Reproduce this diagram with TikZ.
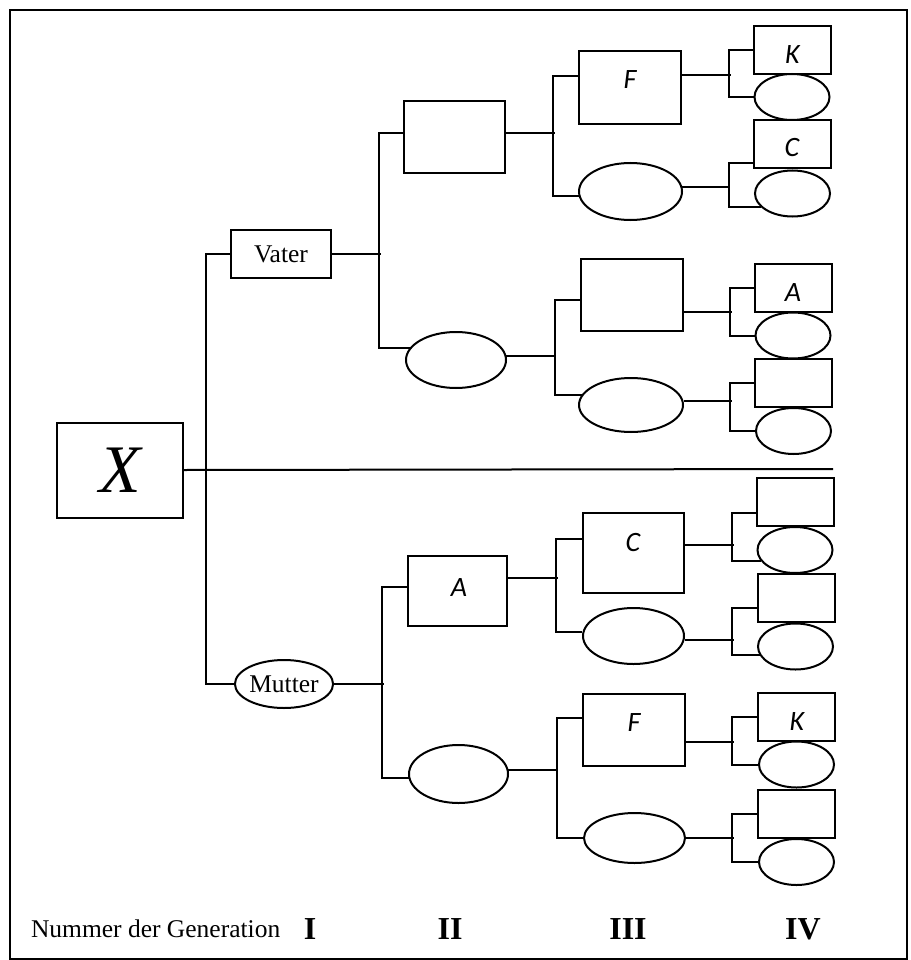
\documentclass[tikz,border=0pt]{standalone}
\usepackage{fontspec}
\setmainfont{Liberation Serif}
\newfontfamily\calibrifont{Carlito}
\usetikzlibrary{shapes.geometric}
\begin{document}
\begin{tikzpicture}[x=1pt,y=-1pt,line width=2pt,
  rbox/.style={draw,rectangle,inner sep=0pt},
  ell/.style={draw,ellipse,inner sep=0pt},
  rb4/.style={rbox,minimum width=77pt,minimum height=48pt},
  el4/.style={ell,minimum width=75pt,minimum height=46pt},
  lab/.style={font=\calibrifont\itshape\fontsize{28}{28}\selectfont,inner sep=0pt},
  txt/.style={font=\fontsize{25.5}{25.5}\selectfont},
  roman/.style={font=\bfseries\fontsize{32}{32}\selectfont,anchor=base,inner sep=0pt}]
\useasboundingbox (0,0) rectangle (910,960);
\draw[line width=1.2pt] (10,10) rectangle (907,959);

% Generation I
\node[rbox,minimum width=126pt,minimum height=95pt,font=\itshape\fontsize{68}{68}\selectfont] (X) at (120,470) {X};
\coordinate (axisend) at (833,469);
\draw (X.east) -- (axisend);

% Parents
\node[rbox,minimum width=100pt,minimum height=48pt,txt] (vater) at (281,254) {Vater};
\node[ell,minimum width=98pt,minimum height=48pt,txt] (mutter) at (284,684) {Mutter};
\draw (vater.west) -- ++(-24,0) |- (mutter.west);

% Generation II (grandparents)
\node[rbox,minimum width=101pt,minimum height=72pt] (B2a) at (454.5,137) {};
\node[ell,minimum width=100pt,minimum height=56pt] (E2a) at (456,360) {};
\node[rbox,minimum width=99pt,minimum height=70pt] (B2b) at (457.5,591) {};
\node[ell,minimum width=99pt,minimum height=58pt] (E2b) at (458.5,774) {};
\node[lab] (lA2) at (459,588) {A};

\draw (vater.east) -- ++(49,0);
\draw ([yshift=4pt]B2a.west) -- ++(-24,0) |- (E2a.165);
\draw (mutter.east) -- ++(50,0);
\draw ([yshift=4pt]B2b.west) -- ++(-25,0) |- (E2b.185);

% Generation III
\node[rbox,minimum width=102pt,minimum height=73pt] (F3a) at (630,87.5) {};
\node[ell,minimum width=103pt,minimum height=57pt] (E3a) at (630.5,191.5) {};
\node[rbox,minimum width=102pt,minimum height=72pt] (B3b) at (632,295) {};
\node[ell,minimum width=104pt,minimum height=54pt] (E3b) at (631,405) {};
\node[rbox,minimum width=101pt,minimum height=80pt] (C3) at (633.5,553) {};
\node[ell,minimum width=101pt,minimum height=56pt] (E3c) at (633.5,636) {};
\node[rbox,minimum width=102pt,minimum height=72pt] (F3b) at (634,730) {};
\node[ell,minimum width=101pt,minimum height=50pt] (E3d) at (634.5,838) {};
\node[lab] (lF3a) at (630,80) {F};
\node[lab] (lC3) at (633,543) {C};
\node[lab] (lF3b) at (634,723) {F};

\draw ([yshift=4pt]B2a.east) -- ++(49,0);
\draw ([yshift=11.5pt]F3a.west) -- ++(-25,0) |- (E3a.185);
\draw (E2a.5) -- ++(50,0);
\draw ([yshift=-5pt]B3b.west) -- ++(-25,0) |- (E3b.168);
\draw ([yshift=13pt]B2b.east) -- ++(50,0);
\draw ([yshift=14pt]C3.west) -- ++(-26,0) |- (E3c.176);
\draw (E2b.5) -- ++(50,0);
\draw ([yshift=12pt]F3b.west) -- ++(-25,0) |- (E3d.west);

% Generation IV
\node[rb4] (b41) at (792.5,50) {};
\node[el4] (e41) at (792,97) {};
\node[rb4] (b42) at (792,144.5) {};
\node[el4] (e42) at (792.5,193.5) {};
\node[rb4] (b43) at (793,288) {};
\node[el4] (e43) at (793,335.5) {};
\node[rb4] (b44) at (793.5,383) {};
\node[el4] (e44) at (793.5,431) {};
\node[rb4] (b45) at (795,502) {};
\node[el4] (e45) at (795,550) {};
\node[rb4] (b46) at (796,598) {};
\node[el4] (e46) at (795.5,646.5) {};
\node[rb4] (b47) at (796.5,717) {};
\node[el4] (e47) at (796.5,764.5) {};
\node[rb4] (b48) at (796.5,813.5) {};
\node[el4] (e48) at (796.5,862) {};
\node[lab] (lK1) at (792.5,55) {K};
\node[lab] (lC2) at (792,148) {C};
\node[lab] (lA3) at (793,293) {A};
\node[lab] (lK7) at (797,722) {K};

\draw ([yshift=12.5pt]F3a.east) -- ++(49,0);
\draw (b41.west) -- ++(-24,0) |- (e41.west);
\draw (E3a.5) -- ++(48,0);
\draw ([yshift=-18.5pt]b42.west) -- ++(-23.5,0) |- (e42.204);
\draw ([yshift=-17pt]B3b.east) -- ++(48,0);
\draw (b43.west) -- ++(-23.5,0) |- (e43.west);
\draw (E3b.4) -- ++(48,0);
\draw (b44.west) -- ++(-24,0) |- (e44.west);
\draw ([yshift=8pt]C3.east) -- ++(49,0);
\draw ([yshift=-11pt]b45.west) -- ++(-23.5,0) |- (e45.198);
\draw (E3c.356) -- ++(49,0);
\draw ([yshift=-10pt]b46.west) -- ++(-24.5,0) |- (e46.194);
\draw ([yshift=-12pt]F3b.east) -- ++(48,0);
\draw (b47.west) -- ++(-25,0) |- (e47.west);
\draw (E3d.east) -- ++(48,0);
\draw (b48.west) -- ++(-25,0) |- (e48.west);

% Generation labels
\node[txt,anchor=base west,inner sep=0pt] (gen) at (30,937) {Nummer der Generation};
\node[roman] (g1) at (310,939) {I};
\node[roman] (g2) at (450,939) {II};
\node[roman] (g3) at (628,939) {III};
\node[roman] (g4) at (803,939) {IV};
\end{tikzpicture}
\end{document}
